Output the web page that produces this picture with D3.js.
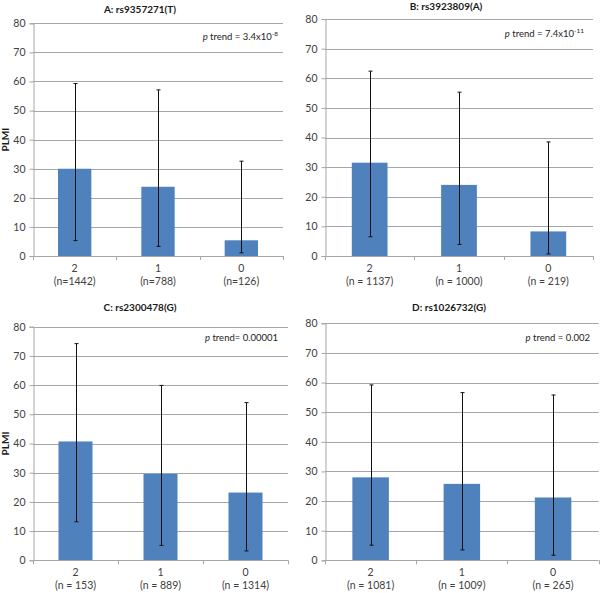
<!DOCTYPE html>
<html><head><meta charset="utf-8">
<script src="https://cdn.jsdelivr.net/npm/d3@7"></script>
<style>
body{margin:0;background:#fff;}
text{font-family:Lato,"Open Sans",sans-serif;}
</style></head>
<body><svg id="c" width="602" height="593"></svg>
<script>
const genotypes = ["2","1","0"];
const yTicks = [0,10,20,30,40,50,60,70,80];
const titles = ["A: rs9357271(T)","B: rs3923809(A)","C: rs2300478(G)","D: rs1026732(G)"];
const nLabelsA = ["(n=1442)","(n=788)","(n=126)"];
const nLabelsB = ["(n = 1137)","(n = 1000)","(n = 219)"];
const nLabelsC = ["(n = 153)","(n = 889)","(n = 1314)"];
const nLabelsD = ["(n = 1081)","(n = 1009)","(n = 265)"];
const meansA = [30.0, 23.8, 5.4];
const meansB = [31.5, 24.0, 8.3];
const meansC = [40.7, 29.6, 23.2];
const meansD = [28.0, 25.8, 21.2];
const upperA = [59.3, 57.1, 32.6];
const upperB = [62.4, 55.3, 38.5];
const upperC = [74.2, 59.9, 54.0];
const upperD = [59.2, 56.6, 55.8];
const lowerA = [5.3, 3.3, 1.1];
const lowerB = [6.5, 3.9, 0.7];
const lowerC = [13.2, 5.1, 3.2];
const lowerD = [5.1, 3.5, 1.7];
const pTexts = [["3.4x10","-8"," = "],["7.4x10","-11"," = "],["0.00001","","= "],["0.002",""," = "]];

const panels = [
 {title:titles[0], n:nLabelsA, m:meansA, hi:upperA, lo:lowerA, p:pTexts[0], x0:33, x1:283, yTop:23.3, yBot:256, tx:140, ty:13, px:278, py:40, ylab:true},
 {title:titles[1], n:nLabelsB, m:meansB, hi:upperB, lo:lowerB, p:pTexts[1], x0:325, x1:593, yTop:19, yBot:256, tx:446, ty:10, px:584, py:37, ylab:false},
 {title:titles[2], n:nLabelsC, m:meansC, hi:upperC, lo:lowerC, p:pTexts[2], x0:33, x1:288, yTop:326.7, yBot:560.3, tx:140, ty:311, px:278, py:341, ylab:true},
 {title:titles[3], n:nLabelsD, m:meansD, hi:upperD, lo:lowerD, p:pTexts[3], x0:325, x1:598.7, yTop:323.3, yBot:560.3, tx:449, ty:311, px:590, py:341, ylab:false}
];

const gridCol = "#a6a6a6";
const svg = d3.select("#c");
panels.forEach(P=>{
  const g = svg.append("g");
  const x = d3.scaleBand().domain(genotypes).range([P.x0,P.x1]).paddingInner(0.6).paddingOuter(0.3);
  const y = d3.scaleLinear().domain([0,80]).range([P.yBot,P.yTop]);
  g.selectAll("line.grid").data(yTicks.filter(d=>d>0)).enter().append("line")
    .attr("x1",P.x0).attr("x2",P.x1).attr("y1",d=>Math.round(y(d))+0.5).attr("y2",d=>Math.round(y(d))+0.5)
    .attr("stroke",gridCol).attr("stroke-width",1);
  const ya = g.append("g").attr("transform",`translate(${P.x0+0.5},0)`).call(d3.axisLeft(y).tickValues(yTicks).tickSize(4).tickPadding(4));
  ya.select(".domain").attr("stroke",gridCol);
  ya.selectAll(".tick line").attr("stroke",gridCol);
  ya.selectAll(".tick text").attr("font-size",10.5).attr("fill","#404040").attr("font-family","Lato,'Open Sans',sans-serif");
  g.selectAll("rect").data(P.m).enter().append("rect")
    .attr("x",(d,i)=>x(genotypes[i])).attr("width",x.bandwidth())
    .attr("y",d=>y(d)).attr("height",d=>y(0)-y(d)).attr("fill","#4f81bd");
  const band = (P.x1-P.x0)/3;
  g.append("line").attr("x1",P.x0).attr("x2",P.x1).attr("y1",Math.round(y(0))+0.5).attr("y2",Math.round(y(0))+0.5).attr("stroke",gridCol);
  [0,1,2,3].forEach(k=>{
    const xx = Math.round(P.x0+k*band)+0.5;
    g.append("line").attr("x1",xx).attr("x2",xx).attr("y1",y(0)).attr("y2",y(0)+4).attr("stroke",gridCol);
  });
  genotypes.forEach((gname,i)=>{
    const cx = x(gname)+x.bandwidth()/2;
    g.append("text").attr("x",cx).attr("y",y(0)+16).attr("text-anchor","middle").attr("font-size",10.5).attr("fill","#404040").text(gname);
    g.append("text").attr("x",cx).attr("y",y(0)+29).attr("text-anchor","middle").attr("font-size",10.5).attr("fill","#404040").text(P.n[i]);
  });
  P.m.forEach((d,i)=>{
    const cx = Math.round(x(genotypes[i])+x.bandwidth()/2)+0.5;
    g.append("line").attr("x1",cx).attr("x2",cx).attr("y1",y(P.hi[i])).attr("y2",y(P.lo[i])).attr("stroke","#111").attr("stroke-width",1);
    [P.hi[i],P.lo[i]].forEach(v=>{
      g.append("line").attr("x1",cx-2).attr("x2",cx+2).attr("y1",y(v)).attr("y2",y(v)).attr("stroke","#111").attr("stroke-width",1);
    });
  });
  g.append("text").attr("x",P.tx).attr("y",P.ty).attr("text-anchor","middle").attr("font-size",10).attr("font-weight","bold").attr("fill","#1a1a1a").text(P.title);
  const t = g.append("text").attr("x",P.px).attr("y",P.py).attr("text-anchor","end").attr("font-size",9.5).attr("fill","#222");
  t.append("tspan").attr("font-style","italic").text("p");
  t.append("tspan").text(" trend"+P.p[2]+P.p[0]);
  if(P.p[1]) t.append("tspan").attr("font-size",6.5).attr("dy",-4).text(P.p[1]);
  if(P.ylab){
    const cy=(P.yTop+P.yBot)/2;
    g.append("text").attr("transform",`translate(9,${cy}) rotate(-90)`).attr("text-anchor","middle").attr("font-size",10).attr("font-weight","bold").attr("fill","#1a1a1a").text("PLMI");
  }
});
</script></body></html>
